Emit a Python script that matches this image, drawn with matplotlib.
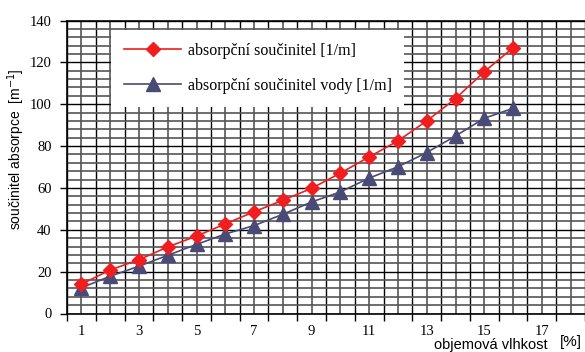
import numpy as np
import matplotlib as mpl
import matplotlib.pyplot as plt
from matplotlib.ticker import FixedLocator

# objemova vlhkost [%]
vlhkost = list(range(1, 17))
# absorpcni soucinitel [1/m]
absorpce = [14.0, 20.8, 25.7, 31.8, 37.0, 42.8, 48.6, 54.1, 59.8, 67.1,
            74.8, 82.5, 92.0, 102.7, 115.5, 127.0]
# absorpcni soucinitel vody [1/m]
absorpce_vody = [12.3, 17.8, 22.6, 27.8, 33.0, 38.0, 42.0, 47.4, 53.3, 58.1,
                 64.7, 70.1, 76.9, 84.8, 93.3, 98.0]

x_labels = [str(i) if i % 2 == 1 else "" for i in range(1, 19)]
y_ticks = list(range(0, 141, 20))

serif = ["Liberation Serif", "DejaVu Serif"]
sans = ["Liberation Sans", "DejaVu Sans"]

fig = plt.figure(figsize=(5.85, 3.52), dpi=100)
ax = fig.add_axes([67 / 585, 1 - 313.5 / 352, 518 / 585, 293 / 352])

ax.plot(vlhkost, absorpce, color="#f01e1e", lw=1.2, marker="D", ms=7,
        label="absorpční součinitel [1/m]", zorder=4)
ax.plot(vlhkost, absorpce_vody, color="#4a4a76", lw=1.2, marker="^", ms=10,
        label="absorpční součinitel vody [1/m]", zorder=3)

ax.set_xlim(0.5, 18.5)
ax.set_ylim(0, 140)

# x: ticks on category boundaries, labels centred on categories
ax.xaxis.set_major_locator(FixedLocator(np.arange(0.5, 19, 1)))
ax.xaxis.set_minor_locator(FixedLocator(np.arange(1, 19, 1)))
ax.set_xticklabels([])
ax.set_xticklabels(x_labels, minor=True, family=serif, fontsize=10.5)
ax.tick_params(axis="x", which="major", direction="out", length=5, width=1)
ax.tick_params(axis="x", which="minor", length=0, pad=8)

ax.yaxis.set_major_locator(FixedLocator(y_ticks))
ax.yaxis.set_minor_locator(FixedLocator(np.arange(0, 141, 4)))
ax.set_yticklabels([str(v) for v in y_ticks], family=serif, fontsize=10.5)
ax.tick_params(axis="y", which="major", direction="out", length=5, width=1, pad=6)
ax.tick_params(axis="y", which="minor", length=0)

ax.grid(which="major", color="#000000", lw=1.0)
ax.grid(which="minor", color="#555555", lw=1.2)
ax.set_axisbelow(True)

for s in ["left", "bottom", "top"]:
    ax.spines[s].set_linewidth(1.2)
ax.spines["right"].set_visible(False)

ax.set_ylabel("součinitel absorpce  [m$^{-1}$]", family=sans, fontsize=10)
ax.yaxis.set_label_coords(-0.078, 0.56)

fig.text(491 / 585, 1 - 338 / 352, "objemová vlhkost", family=sans,
         fontsize=10.5, ha="center", va="top")
fig.text(571 / 585, 1 - 342 / 352, "[%]", family=sans, fontsize=11,
         ha="center", va="center")

leg = ax.legend(loc="upper left", bbox_to_anchor=(0.0695, 0.995),
                prop={"family": serif, "size": 11.5}, frameon=True,
                fancybox=False, framealpha=1, edgecolor="white",
                handlelength=3.6, handletextpad=0.4, labelspacing=1.2,
                borderpad=0.8)
leg.get_frame().set_linewidth(0)

plt.savefig("out.png", dpi=100)
